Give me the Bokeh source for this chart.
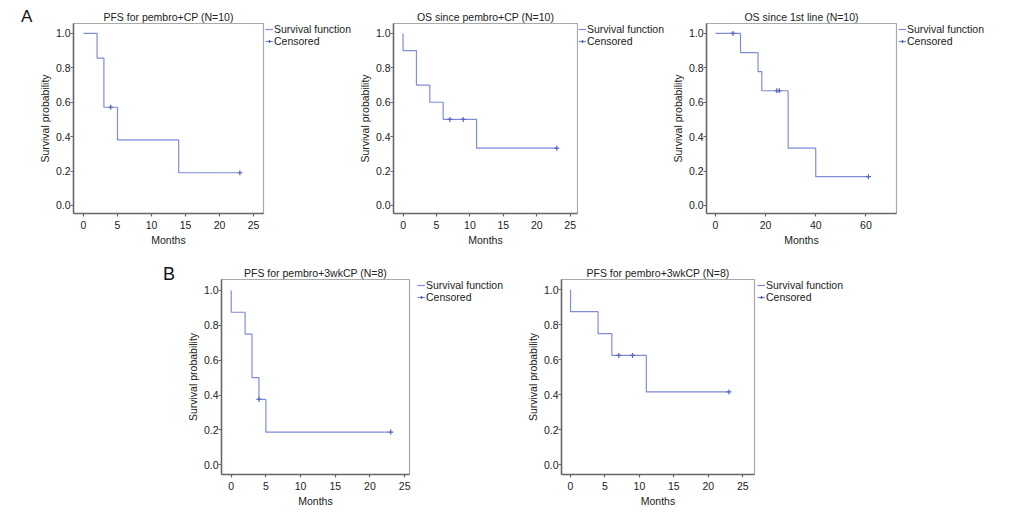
from bokeh.plotting import figure
from bokeh.layouts import column, row
from bokeh.models import Legend, LegendItem, FixedTicker, Range1d, PrintfTickFormatter, Div
from bokeh.embed import file_html
from bokeh.resources import INLINE

# ---------------- data ----------------
p1_title = "PFS for pembro+CP (N=10)"
p1_time = [0, 2, 3, 5, 14, 23]
p1_surv = [1.0, 0.857, 0.571, 0.381, 0.190, 0.190]
p1_cens_time = [4, 23]
p1_cens_surv = [0.571, 0.190]

p2_title = "OS since pembro+CP (N=10)"
p2_time = [0, 0, 2, 4, 6, 11, 23]
p2_surv = [1.0, 0.9, 0.7, 0.6, 0.5, 0.333, 0.333]
p2_cens_time = [7, 9, 23]
p2_cens_surv = [0.5, 0.5, 0.333]

p3_title = "OS since 1st line (N=10)"
p3_time = [0, 10, 17, 18.5, 29, 40, 61]
p3_surv = [1.0, 0.889, 0.778, 0.667, 0.333, 0.167, 0.167]
p3_cens_time = [7, 24.5, 25.5, 61]
p3_cens_surv = [1.0, 0.667, 0.667, 0.167]

p4_title = "PFS for pembro+3wkCP (N=8)"
p4_time = [0, 0, 2, 3, 4, 5, 23]
p4_surv = [1.0, 0.875, 0.75, 0.5, 0.375, 0.1875, 0.1875]
p4_cens_time = [4, 23]
p4_cens_surv = [0.375, 0.1875]

p5_title = "PFS for pembro+3wkCP (N=8)"
p5_time = [0, 0, 4, 6, 11, 23]
p5_surv = [1.0, 0.875, 0.75, 0.625, 0.417, 0.417]
p5_cens_time = [7, 9, 23]
p5_cens_surv = [0.625, 0.625, 0.417]

x_ticks_25 = [0, 5, 10, 15, 20, 25]
x_ticks_60 = [0, 20, 40, 60]
y_ticks = [0.0, 0.2, 0.4, 0.6, 0.8, 1.0]

legend_labels = ["Survival function", "Censored"]
panel_letters = ["A", "B"]
x_label = "Months"
y_label = "Survival probability"

# ---------------- style ----------------
FONT = "Liberation Sans"
FS = "10.5px"
TXT = "#222222"
AXC = "#666666"
LINE = "#7f8cd6"
CENS = "#5565b8"


def letter_div(letter, w, h, pad_left, pad_top, size):
    html = ('<div style="padding-left:%dpx;padding-top:%dpx;font-family:\'Liberation Sans\';'
            'font-size:%dpx;line-height:%dpx;color:#111111;white-space:nowrap">%s</div>'
            % (pad_left, pad_top, size, size, letter))
    return Div(text=html, width=w, height=h, margin=0)


def legend_figure(w, h, t, s, ct, cs):
    # the curve is drawn far outside this small figure's view; only its legend shows
    p = figure(width=w, height=h, x_range=Range1d(1000, 1001), y_range=Range1d(1000, 1001),
               output_backend="svg", toolbar_location=None, title=None,
               x_axis_location=None, y_axis_location=None,
               min_border_left=0, min_border_right=0, min_border_top=0, min_border_bottom=0)
    p.xgrid.visible = False
    p.ygrid.visible = False
    p.outline_line_color = None
    p.background_fill_color = "white"
    p.border_fill_color = "white"
    r_step = p.step(x=t, y=s, mode="after", line_color=LINE, line_width=1.2)
    r_cens = p.scatter(x=ct, y=cs, marker="cross", size=5, line_color=CENS, line_width=1.2)
    legend = Legend(items=[LegendItem(label=legend_labels[0], renderers=[r_step]),
                           LegendItem(label=legend_labels[1], renderers=[r_step, r_cens])],
                    location="top_left")
    legend.label_text_font = FONT
    legend.label_text_font_size = FS
    legend.label_text_color = TXT
    legend.label_height = 10
    legend.glyph_height = 10
    legend.glyph_width = 8
    legend.label_standoff = 1
    legend.spacing = 0
    legend.padding = 0
    legend.margin = 0
    legend.border_line_color = None
    legend.background_fill_alpha = 0
    p.add_layout(legend, "center")
    return p


def make_panel(title, t, s, ct, cs, xr, yr, xticks, fw, fh, bl, br, bt, bb):
    p = figure(frame_width=fw, frame_height=fh, x_range=Range1d(*xr), y_range=Range1d(*yr),
               output_backend="svg", toolbar_location=None,
               min_border_left=bl, min_border_right=br,
               min_border_top=bt, min_border_bottom=bb)
    p.xgrid.visible = False
    p.ygrid.visible = False
    p.background_fill_color = "white"
    p.border_fill_color = "white"
    p.outline_line_color = "#aaaaaa"
    p.outline_line_width = 1.2

    p.title.text = title
    p.title.align = "center"
    p.title.text_font = FONT
    p.title.text_font_size = FS
    p.title.text_font_style = "normal"
    p.title.text_color = TXT
    p.title.standoff = 2

    for ax in (p.xaxis[0], p.yaxis[0]):
        ax.axis_line_color = AXC
        ax.axis_line_width = 1.5
        ax.major_tick_line_color = AXC
        ax.major_tick_line_width = 1.2
        ax.major_tick_in = 0
        ax.major_tick_out = 3
        ax.minor_tick_line_color = None
        ax.major_label_text_font = FONT
        ax.major_label_text_font_size = FS
        ax.major_label_text_color = TXT
        ax.axis_label_text_font = FONT
        ax.axis_label_text_font_size = FS
        ax.axis_label_text_font_style = "normal"
        ax.axis_label_text_color = TXT

    p.xaxis.ticker = FixedTicker(ticks=xticks)
    p.yaxis.ticker = FixedTicker(ticks=y_ticks)
    p.yaxis.formatter = PrintfTickFormatter(format="%.1f")
    p.xaxis.axis_label = x_label
    p.yaxis.axis_label = y_label
    p.xaxis.major_label_standoff = 4
    p.xaxis.axis_label_standoff = 2
    p.yaxis.major_label_standoff = 0
    p.yaxis.axis_label_standoff = 2

    p.step(x=t, y=s, mode="after", line_color=LINE, line_width=1.2)
    p.scatter(x=ct, y=cs, marker="cross", size=5, line_color=CENS, line_width=1.2)
    return p


# top row
cA = letter_div(panel_letters[0], 33, 252, 21, 8, 17)
f1 = make_panel(p1_title, p1_time, p1_surv, p1_cens_time, p1_cens_surv,
                (-1.47, 26.47), (-0.047, 1.058), x_ticks_25, 190, 190, 40, 2, 23, 39)
l1 = legend_figure(88, 252, p1_time, p1_surv, p1_cens_time, p1_cens_surv)
f2 = make_panel(p2_title, p2_time, p2_surv, p2_cens_time, p2_cens_surv,
                (-1.43, 26.1), (-0.047, 1.058), x_ticks_25, 184, 190, 40, 1, 23, 39)
l2 = legend_figure(88, 252, p2_time, p2_surv, p2_cens_time, p2_cens_surv)
f3 = make_panel(p3_title, p3_time, p3_surv, p3_cens_time, p3_cens_surv,
                (-3.55, 72.2), (-0.047, 1.058), x_ticks_60, 190, 190, 40, 2, 23, 39)
l3 = legend_figure(100, 252, p3_time, p3_surv, p3_cens_time, p3_cens_surv)

# bottom row
cB = letter_div(panel_letters[1], 180, 264, 163, 13, 18)
f4 = make_panel(p4_title, p4_time, p4_surv, p4_cens_time, p4_cens_surv,
                (-1.4, 25.7), (-0.056, 1.063), x_ticks_25, 188, 195, 41, 8, 27, 42)
l4 = legend_figure(98, 264, p4_time, p4_surv, p4_cens_time, p4_cens_surv)
f5 = make_panel(p5_title, p5_time, p5_surv, p5_cens_time, p5_cens_surv,
                (-1.31, 26.7), (-0.055, 1.059), x_ticks_25, 193, 195, 46, 3, 27, 42)
l5 = legend_figure(110, 264, p5_time, p5_surv, p5_cens_time, p5_cens_surv)

layout = column(row(cA, f1, l1, f2, l2, f3, l3), row(cB, f4, l4, f5, l5))

open("out.html", "w").write(file_html(layout, INLINE))
